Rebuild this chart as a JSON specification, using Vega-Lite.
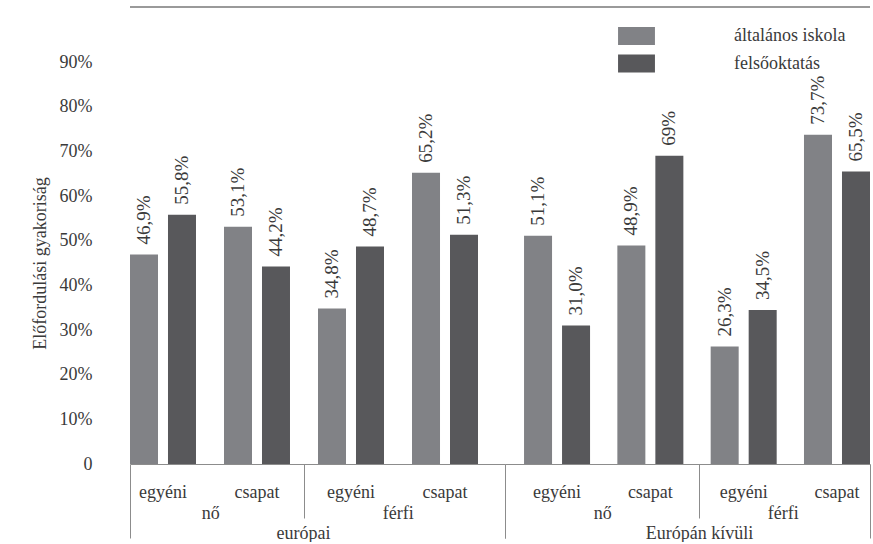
{
  "$schema": "https://vega.github.io/schema/vega-lite/v6.json",
  "background": "white",
  "padding": {"left": 31, "top": 6, "right": 0, "bottom": 0},
  "bounds": "flush",
  "config": {
    "font": "Liberation Serif, DejaVu Serif, serif",
    "view": {"stroke": null},
    "concat": {"spacing": 0},
    "text": {"font": "Liberation Serif, DejaVu Serif, serif"},
    "axis": {"labelFont": "Liberation Serif, DejaVu Serif, serif", "titleFont": "Liberation Serif, DejaVu Serif, serif", "labelColor": "#3a3a3a", "titleColor": "#3a3a3a", "labelFontSize": 18, "titleFontSize": 18, "titleFontWeight": "normal", "grid": false, "labelLimit": 0},
    "legend": {"labelFont": "Liberation Serif, DejaVu Serif, serif", "labelColor": "#3a3a3a", "labelFontSize": 18}
  },
  "data": {
    "values": [
      {"region": "európai", "gender": "nő", "type": "egyéni", "grp": "nő|egyéni", "edu": "általános iskola", "value": 46.9, "label": "46,9%"},
      {"region": "európai", "gender": "nő", "type": "egyéni", "grp": "nő|egyéni", "edu": "felsőoktatás", "value": 55.8, "label": "55,8%"},
      {"region": "európai", "gender": "nő", "type": "csapat", "grp": "nő|csapat", "edu": "általános iskola", "value": 53.1, "label": "53,1%"},
      {"region": "európai", "gender": "nő", "type": "csapat", "grp": "nő|csapat", "edu": "felsőoktatás", "value": 44.2, "label": "44,2%"},
      {"region": "európai", "gender": "férfi", "type": "egyéni", "grp": "férfi|egyéni", "edu": "általános iskola", "value": 34.8, "label": "34,8%"},
      {"region": "európai", "gender": "férfi", "type": "egyéni", "grp": "férfi|egyéni", "edu": "felsőoktatás", "value": 48.7, "label": "48,7%"},
      {"region": "európai", "gender": "férfi", "type": "csapat", "grp": "férfi|csapat", "edu": "általános iskola", "value": 65.2, "label": "65,2%"},
      {"region": "európai", "gender": "férfi", "type": "csapat", "grp": "férfi|csapat", "edu": "felsőoktatás", "value": 51.3, "label": "51,3%"},
      {"region": "Európán kívüli", "gender": "nő", "type": "egyéni", "grp": "nő|egyéni", "edu": "általános iskola", "value": 51.1, "label": "51,1%"},
      {"region": "Európán kívüli", "gender": "nő", "type": "egyéni", "grp": "nő|egyéni", "edu": "felsőoktatás", "value": 31.0, "label": "31,0%"},
      {"region": "Európán kívüli", "gender": "nő", "type": "csapat", "grp": "nő|csapat", "edu": "általános iskola", "value": 48.9, "label": "48,9%"},
      {"region": "Európán kívüli", "gender": "nő", "type": "csapat", "grp": "nő|csapat", "edu": "felsőoktatás", "value": 69, "label": "69%"},
      {"region": "Európán kívüli", "gender": "férfi", "type": "egyéni", "grp": "férfi|egyéni", "edu": "általános iskola", "value": 26.3, "label": "26,3%"},
      {"region": "Európán kívüli", "gender": "férfi", "type": "egyéni", "grp": "férfi|egyéni", "edu": "felsőoktatás", "value": 34.5, "label": "34,5%"},
      {"region": "Európán kívüli", "gender": "férfi", "type": "csapat", "grp": "férfi|csapat", "edu": "általános iskola", "value": 73.7, "label": "73,7%"},
      {"region": "Európán kívüli", "gender": "férfi", "type": "csapat", "grp": "férfi|csapat", "edu": "felsőoktatás", "value": 65.5, "label": "65,5%"}
    ]
  },
  "resolve": {"scale": {"x": "independent", "xOffset": "independent", "y": "shared", "color": "shared"}},
  "hconcat": [
    {
      "width": 375,
      "height": 402,
      "transform": [{"filter": "datum.region == 'európai'"}],
      "resolve": {"scale": {"x": "independent"}, "axis": {"x": "independent"}},
      "layer": [
        {
          "mark": {"type": "bar"},
          "encoding": {
            "x": {"field": "grp", "type": "nominal", "sort": ["nő|egyéni", "nő|csapat", "férfi|egyéni", "férfi|csapat"],
              "scale": {"paddingInner": 0.298, "paddingOuter": 0.1436, "align": 0},
              "axis": {"orient": "bottom", "title": null, "labelExpr": "split(datum.label, '|')[1]", "labelAngle": 0, "ticks": false, "domain": true, "domainColor": "#8c8c8c", "domainWidth": 1, "labelBaseline": "middle", "labelPadding": 28}},
            "xOffset": {"field": "edu", "type": "nominal", "sort": ["általános iskola", "felsőoktatás"], "scale": {"paddingInner": 0.263, "paddingOuter": 0}},
            "y": {"field": "value", "type": "quantitative", "scale": {"domain": [0, 90]},
              "axis": {"title": "Előfordulási gyakoriság", "values": [0, 10, 20, 30, 40, 50, 60, 70, 80, 90], "labelExpr": "datum.value == 0 ? '0' : datum.value + '%'", "domain": false, "ticks": false, "labelPadding": 38, "titlePadding": 10}},
            "color": {"field": "edu", "type": "nominal", "scale": {"domain": ["általános iskola", "felsőoktatás"], "range": ["#818286", "#58585b"]},
              "legend": {"title": null, "orient": "none", "legendX": 497.5, "legendY": -35, "symbolType": "M-2.05,-1H2.05V1H-2.05Z", "symbolSize": 324, "symbolStrokeWidth": 0, "symbolOpacity": 1, "labelOffset": 88.5, "rowPadding": 9.5, "padding": 0}}
          }
        },
        {
          "mark": {"type": "text", "angle": 270, "align": "left", "baseline": "middle", "dx": 10, "fontSize": 19, "color": "#3a3a3a", "font": "Liberation Serif, DejaVu Serif, serif"},
          "encoding": {
            "x": {"field": "grp", "type": "nominal", "sort": ["nő|egyéni", "nő|csapat", "férfi|egyéni", "férfi|csapat"], "scale": {"paddingInner": 0.298, "paddingOuter": 0.1436, "align": 0}, "axis": null},
            "xOffset": {"field": "edu", "type": "nominal", "sort": ["általános iskola", "felsőoktatás"], "scale": {"paddingInner": 0.263, "paddingOuter": 0}},
            "y": {"field": "value", "type": "quantitative"},
            "text": {"field": "label"}
          }
        },
        {
          "mark": {"type": "point", "opacity": 0},
          "encoding": {
            "x": {"field": "gender", "type": "nominal", "sort": ["nő", "férfi"], "scale": {"paddingInner": 0, "paddingOuter": 0},
              "axis": {"orient": "bottom", "title": null, "labelAngle": 0, "domain": false, "ticks": false, "labelBaseline": "middle", "labelPadding": 49, "labelOffset": -13.5}}
          }
        },
        {
          "mark": {"type": "point", "opacity": 0},
          "encoding": {
            "x": {"field": "gender", "type": "nominal", "sort": ["nő", "férfi"], "scale": {"paddingInner": 0, "paddingOuter": 0},
              "axis": {"orient": "bottom", "title": null, "labels": false, "domain": false, "ticks": true, "bandPosition": 0, "tickOffset": -107.25, "tickSize": 54, "tickColor": "#8c8c8c", "tickWidth": 1,
                "tickOpacity": {"condition": {"test": "datum.value === 'nő'", "value": 0}, "value": 1}}}
          }
        },
        {
          "mark": {"type": "point", "opacity": 0},
          "encoding": {
            "x": {"field": "region", "type": "nominal", "scale": {"paddingInner": 0, "paddingOuter": 0},
              "axis": {"orient": "bottom", "title": null, "labelAngle": 0, "domain": false, "ticks": true, "tickBand": "extent", "tickSize": 74, "tickColor": "#8c8c8c", "tickWidth": 1, "labelBaseline": "middle", "labelPadding": -5, "labelOffset": -14.5}}
          }
        },
        {
          "mark": {"type": "rule", "color": "#9a9a9a", "strokeWidth": 1.5},
          "encoding": {"y": {"datum": 102.3}}
        }
      ]
    },
    {
      "width": 365,
      "height": 402,
      "transform": [{"filter": "datum.region == 'Európán kívüli'"}],
      "resolve": {"scale": {"x": "independent"}, "axis": {"x": "independent"}},
      "layer": [
        {
          "mark": {"type": "bar"},
          "encoding": {
            "x": {"field": "grp", "type": "nominal", "sort": ["nő|egyéni", "nő|csapat", "férfi|egyéni", "férfi|csapat"],
              "scale": {"paddingInner": 0.2926, "paddingOuter": 0.102, "align": 1},
              "axis": {"orient": "bottom", "title": null, "labelExpr": "split(datum.label, '|')[1]", "labelAngle": 0, "ticks": false, "domain": true, "domainColor": "#8c8c8c", "domainWidth": 1, "labelBaseline": "middle", "labelPadding": 28}},
            "xOffset": {"field": "edu", "type": "nominal", "sort": ["általános iskola", "felsőoktatás"], "scale": {"paddingInner": 0.263, "paddingOuter": 0}},
            "y": {"field": "value", "type": "quantitative", "scale": {"domain": [0, 90]}, "axis": null},
            "color": {"field": "edu", "type": "nominal", "scale": {"domain": ["általános iskola", "felsőoktatás"], "range": ["#818286", "#58585b"]},
              "legend": {"title": null, "orient": "none", "legendX": 497.5, "legendY": -35, "symbolType": "M-2.05,-1H2.05V1H-2.05Z", "symbolSize": 324, "symbolStrokeWidth": 0, "symbolOpacity": 1, "labelOffset": 88.5, "rowPadding": 9.5, "padding": 0}}
          }
        },
        {
          "mark": {"type": "text", "angle": 270, "align": "left", "baseline": "middle", "dx": 10, "fontSize": 19, "color": "#3a3a3a", "font": "Liberation Serif, DejaVu Serif, serif"},
          "encoding": {
            "x": {"field": "grp", "type": "nominal", "sort": ["nő|egyéni", "nő|csapat", "férfi|egyéni", "férfi|csapat"], "scale": {"paddingInner": 0.2926, "paddingOuter": 0.102, "align": 1}, "axis": null},
            "xOffset": {"field": "edu", "type": "nominal", "sort": ["általános iskola", "felsőoktatás"], "scale": {"paddingInner": 0.263, "paddingOuter": 0}},
            "y": {"field": "value", "type": "quantitative"},
            "text": {"field": "label"}
          }
        },
        {
          "mark": {"type": "point", "opacity": 0},
          "encoding": {
            "x": {"field": "gender", "type": "nominal", "sort": ["nő", "férfi"], "scale": {"paddingInner": 0, "paddingOuter": 0},
              "axis": {"orient": "bottom", "title": null, "labelAngle": 0, "domain": false, "ticks": false, "labelBaseline": "middle", "labelPadding": 49,
                "labelOffset": {"condition": {"test": "datum.value === 'nő'", "value": 6}, "value": 4}}}
          }
        },
        {
          "mark": {"type": "point", "opacity": 0},
          "encoding": {
            "x": {"field": "gender", "type": "nominal", "sort": ["nő", "férfi"], "scale": {"paddingInner": 0, "paddingOuter": 0},
              "axis": {"orient": "bottom", "title": null, "labels": false, "domain": false, "ticks": true, "bandPosition": 0, "tickOffset": -79.75, "tickSize": 54, "tickColor": "#8c8c8c", "tickWidth": 1,
                "tickOpacity": {"condition": {"test": "datum.value === 'nő'", "value": 0}, "value": 1}}}
          }
        },
        {
          "mark": {"type": "point", "opacity": 0},
          "encoding": {
            "x": {"field": "region", "type": "nominal", "scale": {"paddingInner": 0, "paddingOuter": 0},
              "axis": {"orient": "bottom", "title": null, "labelAngle": 0, "domain": false, "ticks": true, "tickBand": "extent", "tickSize": 74, "tickColor": "#8c8c8c", "tickWidth": 1, "labelBaseline": "middle", "labelPadding": -5, "labelOffset": 11.5}}
          }
        },
        {
          "mark": {"type": "rule", "color": "#9a9a9a", "strokeWidth": 1.5},
          "encoding": {"y": {"datum": 102.3}}
        }
      ]
    }
  ]
}
